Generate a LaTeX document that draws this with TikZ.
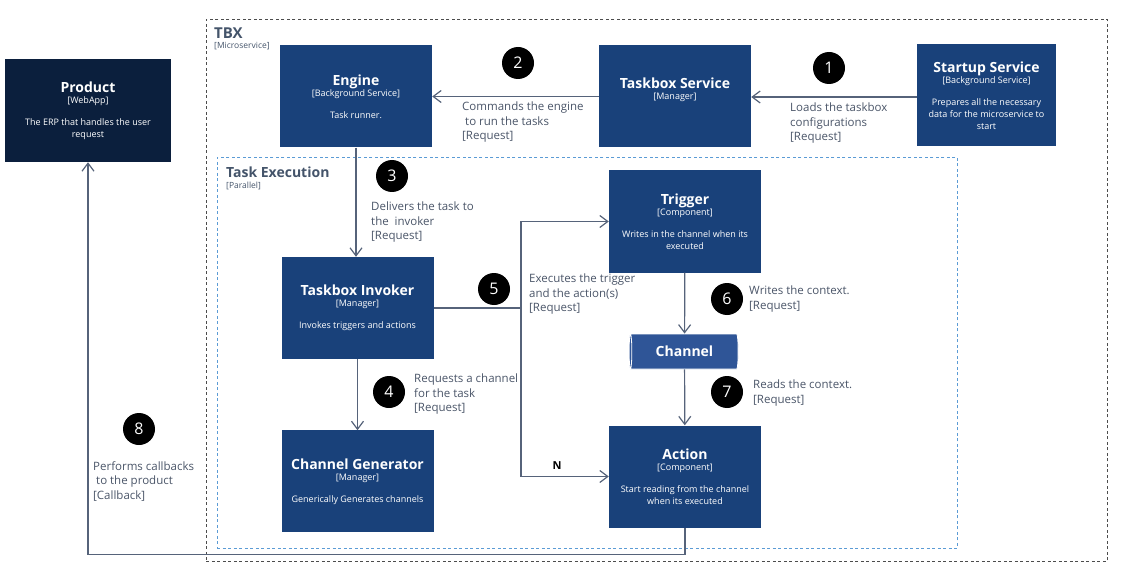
\documentclass[tikz,border=0pt]{standalone}
\usepackage{fontspec}
\setmainfont{Open Sans}
\usetikzlibrary{positioning,shapes.geometric,arrows.meta,calc}

\definecolor{boxblue}{HTML}{19417A}
\definecolor{navy}{HTML}{0B1F3D}
\definecolor{chanblue}{HTML}{2F5597}
\definecolor{linegray}{HTML}{56637A}
\definecolor{txtgray}{HTML}{4A5568}
\definecolor{hdrgray}{HTML}{44546A}
\definecolor{laneblue}{HTML}{5B9BD5}

\newcommand{\ttl}[1]{{\fontsize{14}{16}\selectfont\bfseries #1}}
\tikzset{
  comp/.style    = {rectangle, fill=boxblue, text=white, align=center,
                    minimum width=152pt, minimum height=102pt, inner sep=2pt,
                    font=\fontsize{9}{12}\selectfont},
  chan/.style    = {cylinder, shape border rotate=180, aspect=0.25,
                    draw=white, line width=0.8pt, fill=chanblue, text=white,
                    minimum width=35pt, minimum height=109pt, inner sep=0pt,
                    font=\fontsize{14}{16}\selectfont\bfseries},
  num/.style     = {circle, fill=black, text=white, minimum size=32pt,
                    inner sep=0pt, font=\fontsize{16}{16}\selectfont},
  lbl/.style     = {anchor=north west, align=left, text=txtgray, inner sep=0pt,
                    font=\fontsize{11.5}{14.5}\selectfont},
  hdr/.style     = {anchor=west, inner sep=0pt, text=hdrgray,
                    font=\fontsize{15}{17}\selectfont\bfseries},
  hdrsub/.style  = {anchor=west, inner sep=0pt, text=hdrgray,
                    font=\fontsize{8.5}{10}\selectfont},
  tbxzone/.style = {rectangle, draw=black!70, dash pattern=on 3pt off 2.5pt,
                    line width=0.8pt, anchor=north west},
  lane/.style    = {rectangle, draw=laneblue, dash pattern=on 3pt off 2.5pt,
                    line width=0.8pt, anchor=north west},
  flow/.style    = {-{Straight Barb[length=8pt,width=12pt]}, linegray, line width=1.2pt},
  wire/.style    = {linegray, line width=1.2pt},
}

\begin{document}
\begin{tikzpicture}[x=1pt, y=-1pt]
  \useasboundingbox (0,0) rectangle (1145,580);

  % zones
  \node[tbxzone, minimum width=901pt, minimum height=542pt] (tbx) at (206,19) {};
  \node[hdr] (tbxname) at (214,33) {TBX};
  \node[hdrsub, below=4pt of tbxname.south west, anchor=north west] (tbxtype) {[Microservice]};

  \node[lane, minimum width=740pt, minimum height=391pt] (exec) at (217,157) {};
  \node[hdr, font=\fontsize{14}{16}\selectfont\bfseries] (execname) at (226,172) {Task Execution};
  \node[hdrsub, below=4pt of execname.south west, anchor=north west] (exectype) {[Parallel]};

  % boxes
  \node[comp, fill=navy, minimum width=166pt, minimum height=103pt] (product) at (88,110.5)
       {\ttl{Product}\\[-1pt]{[WebApp]}\\[10pt]The ERP that handles the user\\request};
  \node[comp] (engine) at (356,96.5)
       {\ttl{Engine}\\[-1pt]{[Background Service]}\\[10pt]Task runner.};
  \node[comp] (tbsvc) at (675,96.5)
       {\ttl{Taskbox Service}\\[-1pt]{[Manager]}\\[4pt]};
  \node[comp, minimum width=139pt] (startup) at (986.5,95.5)
       {\ttl{Startup Service}\\[-1pt]{[Background Service]}\\[10pt]Prepares all the necessary\\data for the microservice to\\start};
  \node[comp] (invoker) at (357.5,308)
       {\ttl{Taskbox Invoker}\\[-1pt]{[Manager]}\\[10pt]Invokes triggers and actions};
  \node[comp, below=71pt of invoker] (chgen)
       {\ttl{Channel Generator}\\[-1pt]{[Manager]}\\[10pt]Generically Generates channels};
  \node[comp] (trigger) at (685,221.5)
       {\ttl{Trigger}\\[-1pt]{[Component]}\\[10pt]Writes in the channel when its\\executed};
  \node[chan] (channel) at (684.5,351.5) {Channel};
  \node[comp] (action) at (685,476.5)
       {\ttl{Action}\\[-1pt]{[Component]}\\[10pt]Start reading from the channel\\when its executed};

  % connectors
  \draw[flow] (startup.west |- 0,97) -- (tbsvc.east |- 0,97);
  \draw[flow] (tbsvc.west) -- (engine.east);
  \draw[flow] (engine.south) -- (engine.south |- invoker.north);
  \draw[flow] (invoker) -- (chgen);
  \coordinate (split) at (521,308);
  \draw[wire] (invoker.east) -- (split);
  \draw[flow] (split) |- (trigger.west);
  \draw[flow] (split) |- (action.west);
  \node[font=\fontsize{11}{13}\selectfont\bfseries, inner sep=0pt] (mult) at (557,466) {N};
  \draw[flow] (trigger) -- (channel);
  \draw[flow] (channel) -- (action);
  \draw[flow] (action.south) -- ++(0,26.5) -| (product.south);

  % step numbers
  \node[num] (n1) at (829,68) {1};
  \node[num] (n2) at (518,63) {2};
  \node[num] (n3) at (392,176) {3};
  \node[num] (n4) at (389,392) {4};
  \node[num] (n5) at (494,289) {5};
  \node[num] (n6) at (727,299) {6};
  \node[num] (n7) at (727,392) {7};
  \node[num] (n8) at (139,429) {8};

  % labels
  \node[lbl] (l1) at (790,103) {Loads the taskbox\\configurations\\{[Request]}};
  \node[lbl] (l2) at (462,102) {Commands the engine\\\hspace*{3pt}to run the tasks\\{[Request]}};
  \node[lbl] (l3) at (371,202) {Delivers the task to\\the\ \ invoker\\{[Request]}};
  \node[lbl] (l5) at (529,274) {Executes the trigger\\and the action(s)\\{[Request]}};
  \node[lbl] (l6) at (749,286) {Writes the context.\\{[Request]}};
  \node[lbl] (l4) at (414,374) {Requests a channel\\for the task\\{[Request]}};
  \node[lbl] (l7) at (753,380) {Reads the context.\\{[Request]}};
  \node[lbl] (l8) at (93,461) {Performs callbacks\\\hspace*{3pt}to the product\\{[Callback]}};

\end{tikzpicture}
\end{document}
